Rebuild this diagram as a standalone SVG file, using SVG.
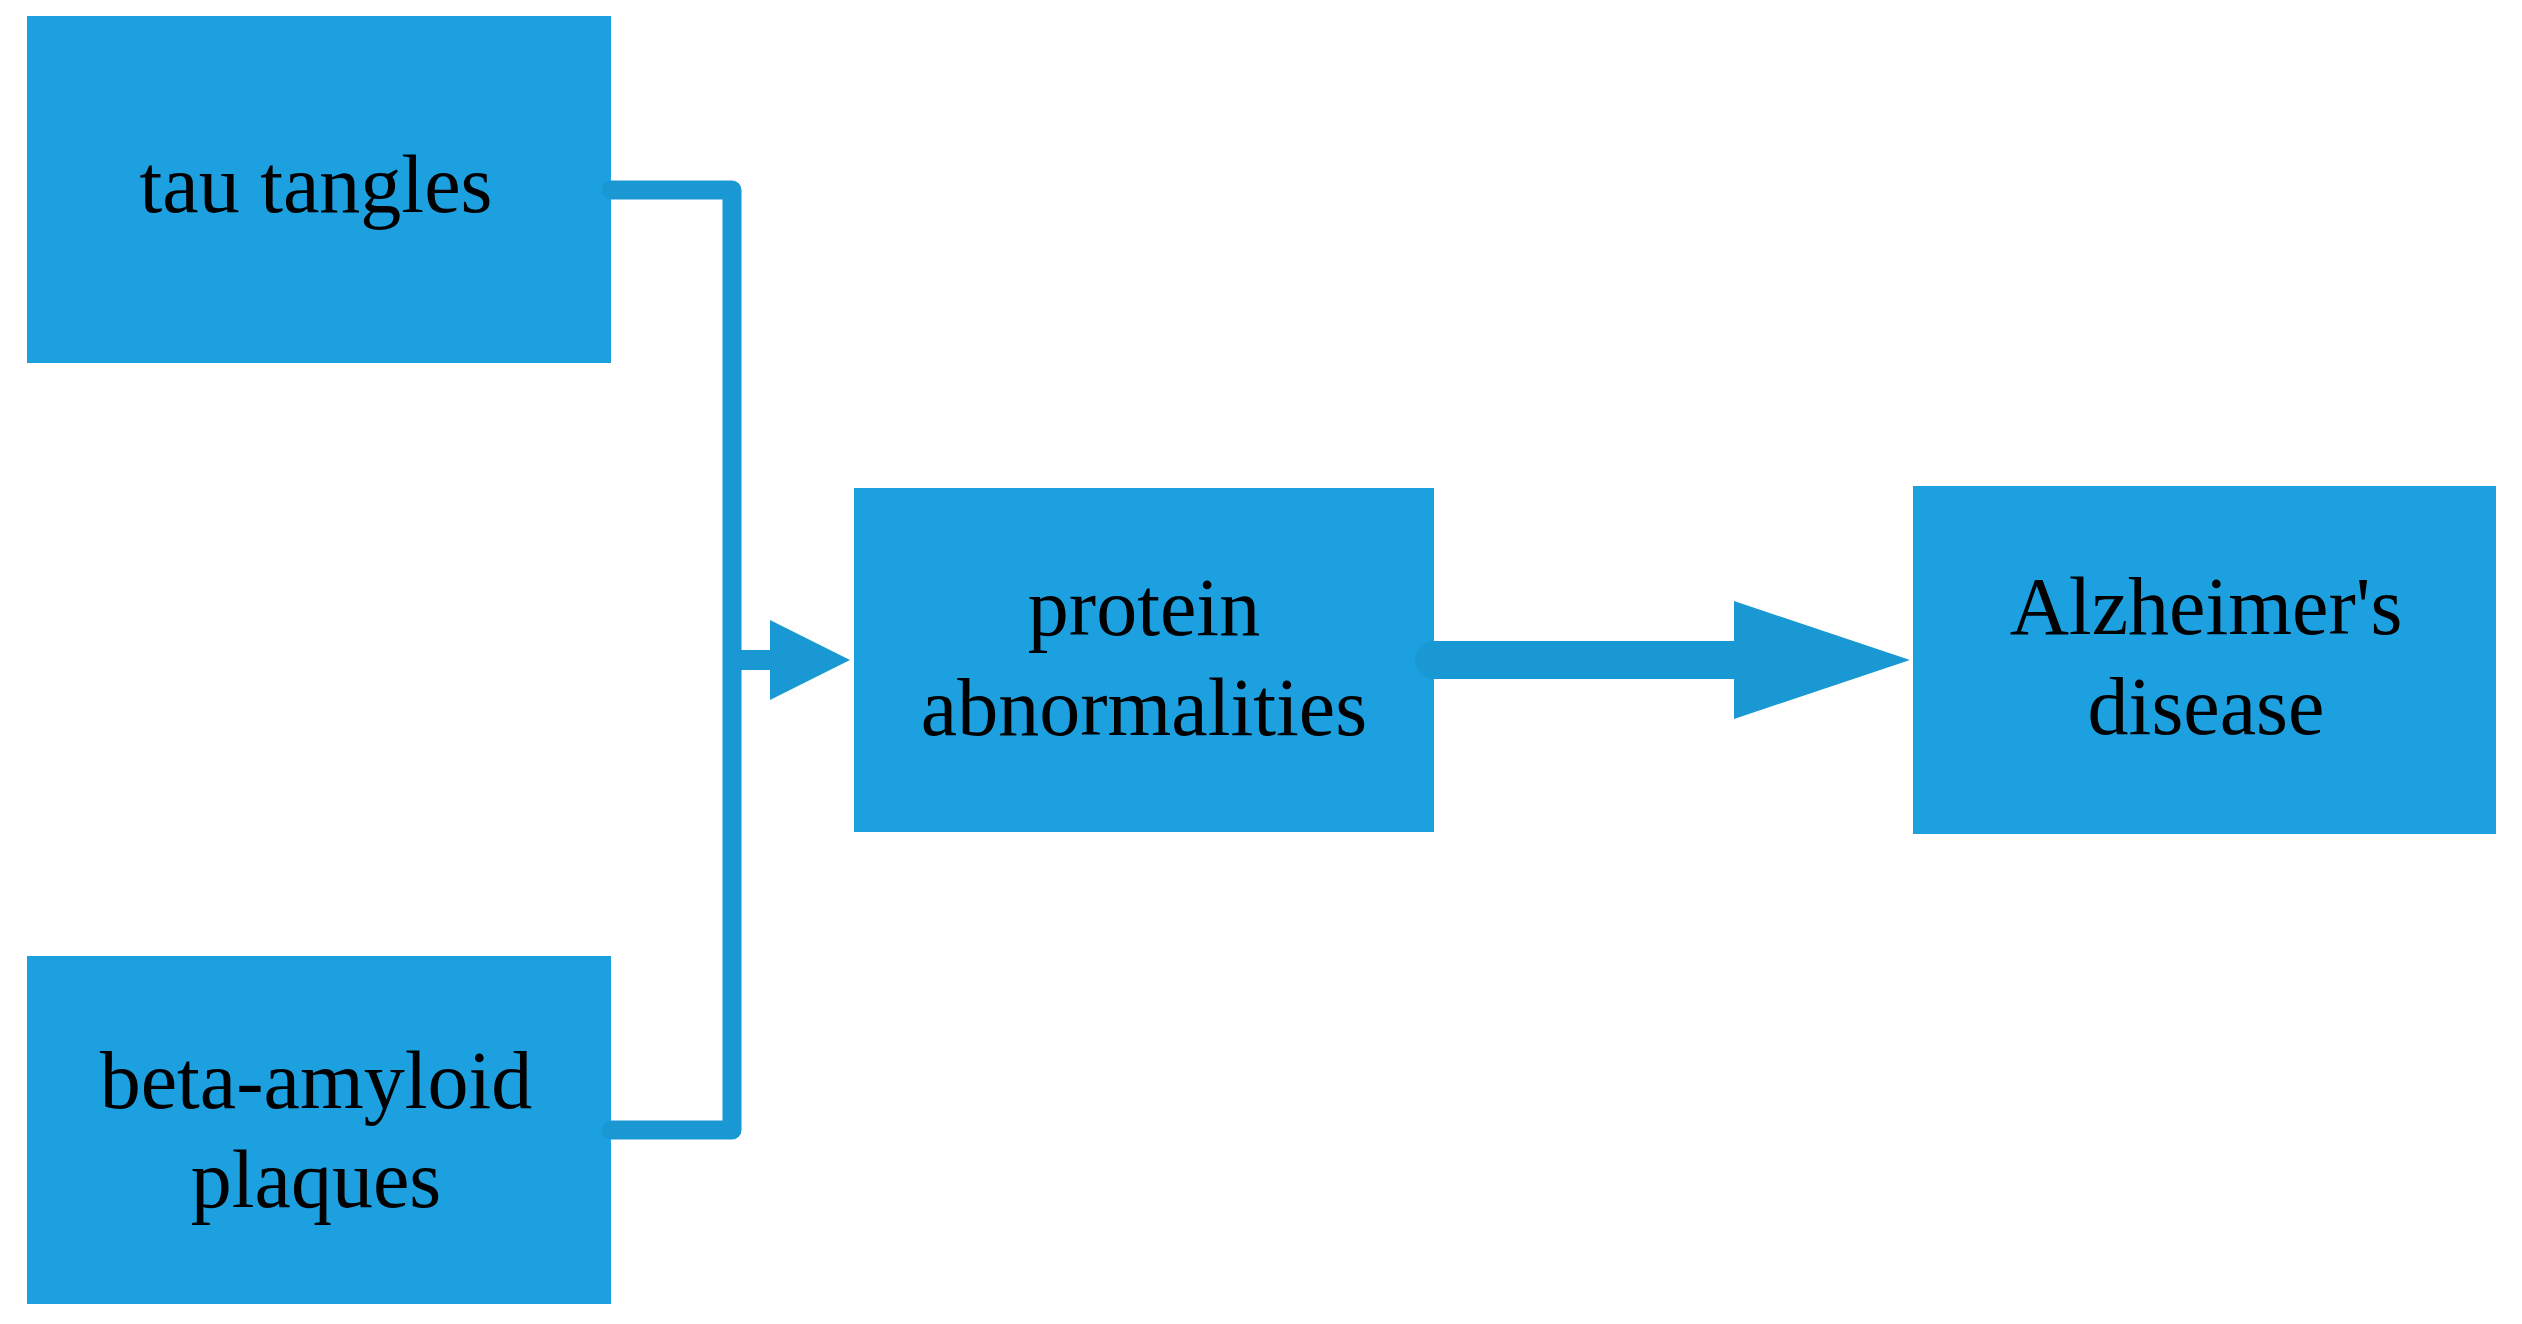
<svg xmlns="http://www.w3.org/2000/svg" width="2522" height="1324" viewBox="0 0 2522 1324">
<style>
.box{fill:#1DA0E0;}
.lbl{font-family:"Liberation Serif","Times New Roman",serif;font-size:82px;fill:#000;text-anchor:middle;}
.wire{fill:none;stroke:#1998D4;stroke-linecap:round;stroke-linejoin:round;}
.head{fill:#1998D4;}
</style>
<rect width="2522" height="1324" fill="#fff"/>
<g id="node-tau">
<rect class="box" x="27" y="16" width="584" height="347"/>
<text class="lbl" x="316" y="212">tau tangles</text>
</g>
<g id="node-beta">
<rect class="box" x="27" y="956" width="584" height="348"/>
<text class="lbl" x="316" y="1108">beta-amyloid</text>
<text class="lbl" x="316" y="1207">plaques</text>
</g>
<g id="node-protein">
<rect class="box" x="854" y="488" width="580" height="344"/>
<text class="lbl" x="1144" y="635">protein</text>
<text class="lbl" x="1144" y="735">abnormalities</text>
</g>
<g id="node-alz">
<rect class="box" x="1913" y="486" width="583" height="348"/>
<text class="lbl" x="2206" y="634">Alzheimer's</text>
<text class="lbl" x="2206" y="734">disease</text>
</g>
<g id="connectors">
<path class="wire" stroke-width="19" d="M611,190 H732 V1130 H611"/>
<path class="wire" stroke-width="20" stroke-linecap="butt" d="M741,660 H772"/>
<polygon class="head" points="770,620 850,660 770,700"/>
<path class="wire" stroke-width="38" d="M1434,660 H1736"/>
<polygon class="head" points="1734,601 1910,660 1734,719"/>
</g>
</svg>
